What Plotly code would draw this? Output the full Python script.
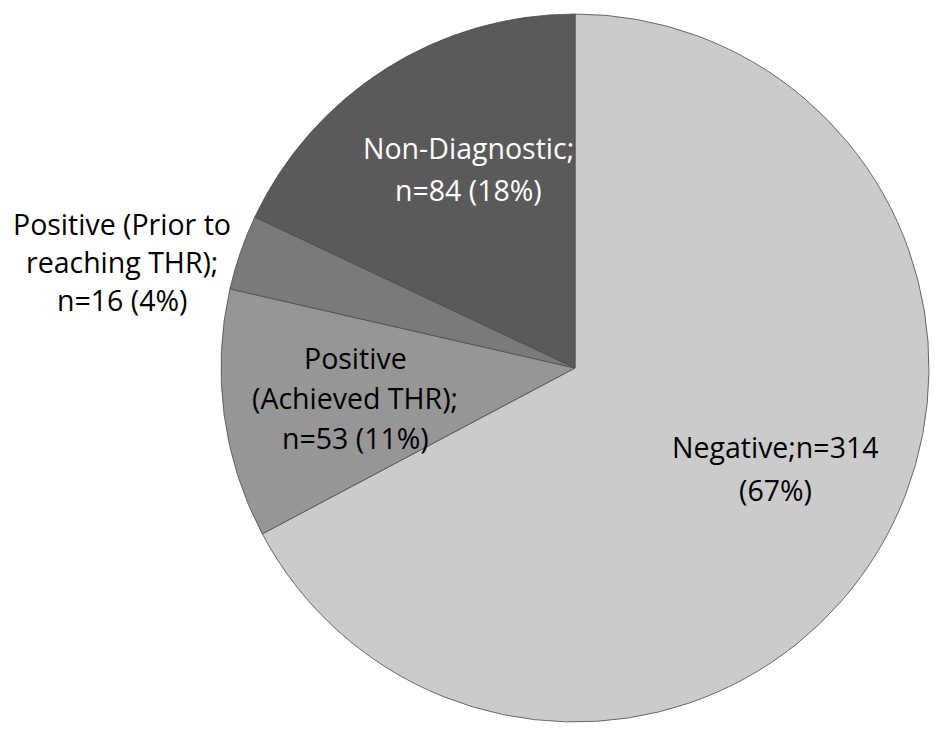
import plotly.graph_objects as go

categories = ["Negative", "Positive (Achieved THR)", "Positive (Prior to reaching THR)", "Non-Diagnostic"]
counts = [314, 53, 16, 84]
percents = [67, 11, 4, 18]
colors = ["#cbcbcb", "#969696", "#7a7a7a", "#5a5a5a"]

W, H = 945, 732
cx, cy, r = 575, 368, 354

fig = go.Figure(go.Pie(
    labels=categories,
    values=counts,
    sort=False,
    direction="clockwise",
    rotation=0,
    textinfo="none",
    hoverinfo="label+value+percent",
    marker=dict(colors=colors, line=dict(color="#4a4a4a", width=0.8)),
    domain=dict(x=[(cx - r) / W, (cx + r) / W], y=[(H - cy - r) / H, (H - cy + r) / H]),
    showlegend=False,
))

label_lines = [
    ["Negative;n=%d" % counts[0], "(%d%%)" % percents[0]],
    ["Positive", "(Achieved THR);", "n=%d (%d%%)" % (counts[1], percents[1])],
    ["Positive (Prior to", "reaching THR);", "n=%d (%d%%)" % (counts[2], percents[2])],
    ["Non-Diagnostic;", "n=%d (%d%%)" % (counts[3], percents[3])],
]
label_pos = [(775, 447, 43), (355, 358, 40), (122, 224, 38), (468, 148, 42)]
label_colors = ["black", "black", "black", "white"]

for lines, (px, py0, dy), col in zip(label_lines, label_pos, label_colors):
    for i, t in enumerate(lines):
        fig.add_annotation(
            x=px / W, y=1 - (py0 + i * dy) / H, xref="paper", yref="paper",
            text=t, showarrow=False, xanchor="center", yanchor="middle",
            font=dict(family="Open Sans", size=28.5, color=col),
        )

fig.update_layout(
    width=W, height=H,
    margin=dict(l=0, r=0, t=0, b=0),
    paper_bgcolor="white",
    plot_bgcolor="white",
)

fig.write_html("out.html")
